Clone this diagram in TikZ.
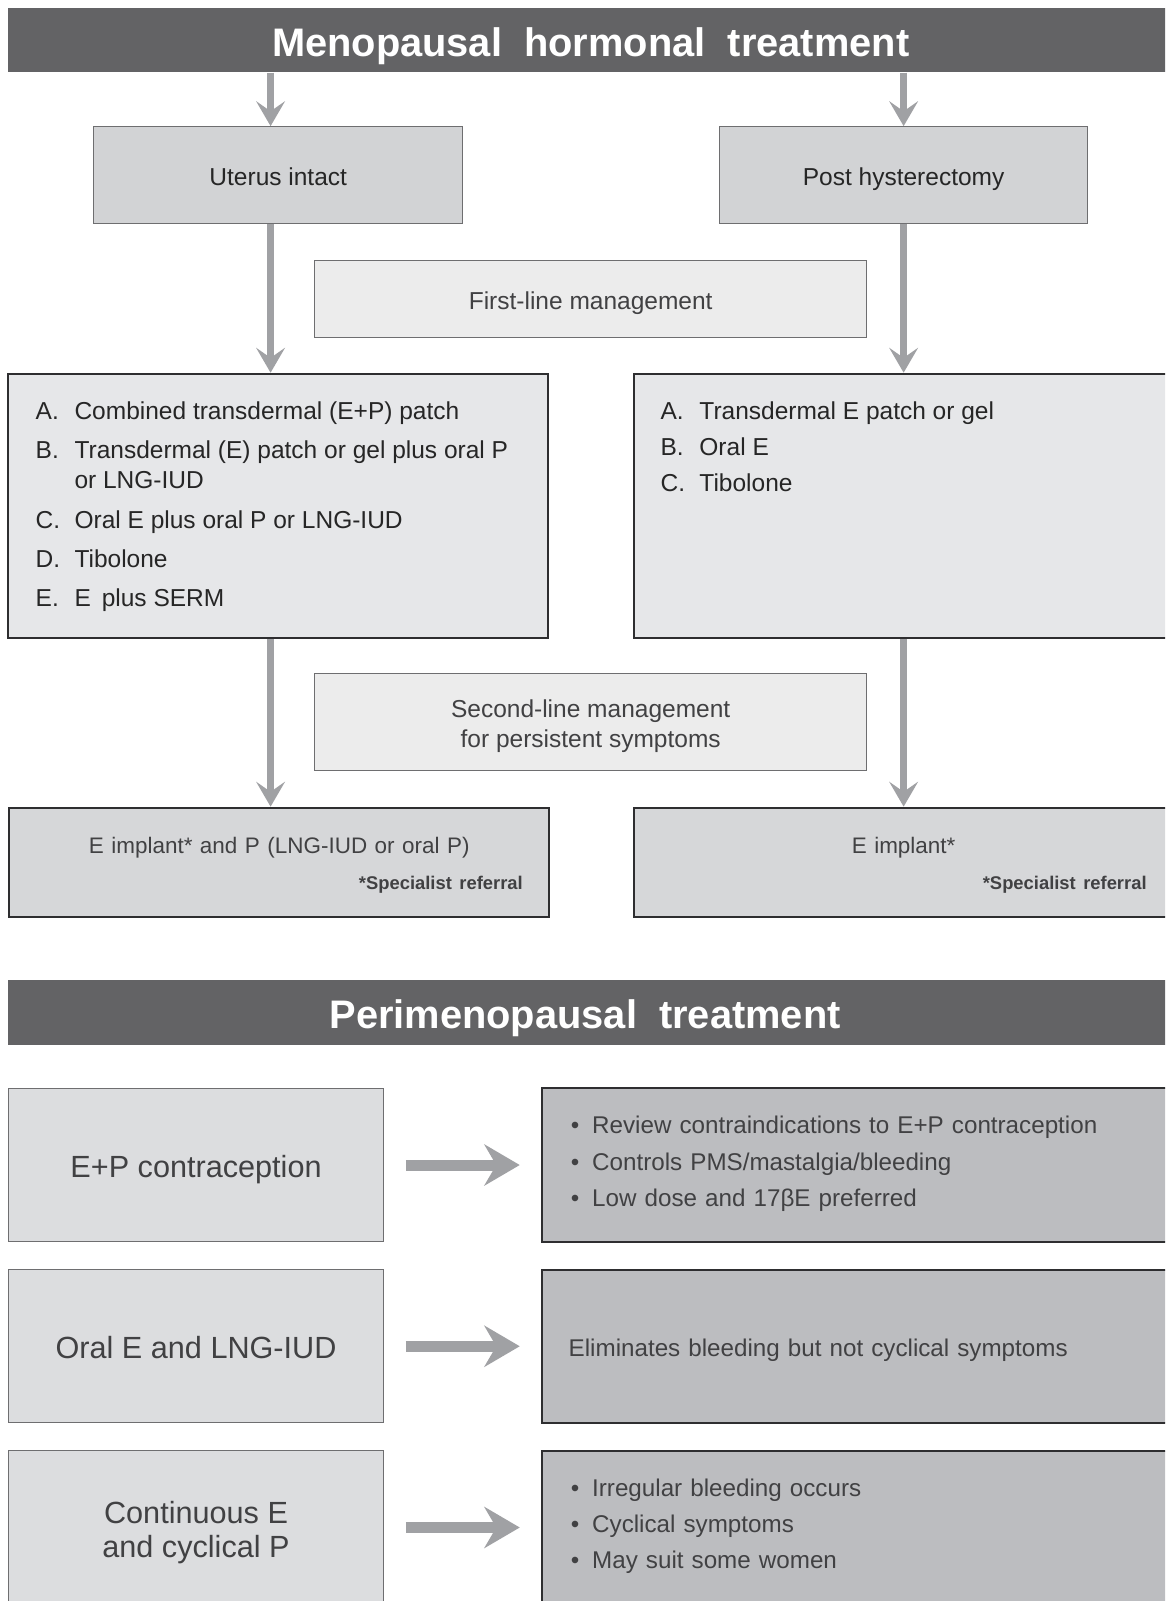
\documentclass[tikz,border=0pt]{standalone}
\usepackage{fontspec}
\setmainfont{Liberation Sans}
\newfontfamily\bannerfont{Liberation Sans}[WordSpace=2]
\usetikzlibrary{arrows.meta, positioning}

\definecolor{bannergray}{HTML}{636365}
\definecolor{arrowgray}{HTML}{A0A1A4}
\definecolor{boxgray}{HTML}{D2D3D5}
\definecolor{notegray}{HTML}{ECECEC}
\definecolor{listgray}{HTML}{E6E7E9}
\definecolor{implantgray}{HTML}{D6D7D9}
\definecolor{optgray}{HTML}{DCDDDF}
\definecolor{effectgray}{HTML}{BCBDC0}
\definecolor{edgegray}{HTML}{6E6E70}
\definecolor{edgedark}{HTML}{2E2E30}
\definecolor{inkgray}{HTML}{414143}

\newcommand\reffont{\bfseries\fontsize{18}{20}\selectfont}
\newcommand\pitem[1]{\hspace*{2pt}\makebox[21pt][l]{\textbullet}#1}
\newcommand\litem[2]{\makebox[38pt][l]{#1}#2\par}

\begin{document}
\begin{tikzpicture}[x=1pt, y=-1pt,
  banner/.style={fill=bannergray, text=white, inner sep=0pt,
    font=\bannerfont\bfseries\fontsize{39}{44}\selectfont,
    minimum width=1141pt, minimum height=63pt, text height=31pt, text depth=0pt},
  flow/.style={draw=arrowgray, line width=6.5pt,
    -{Stealth[length=24.5pt, width=28.5pt, inset=10pt, line width=0pt]}},
  sideflow/.style={draw=arrowgray, line width=10.8pt, shorten <=21pt, shorten >=21pt,
    -{Stealth[length=35pt, width=41pt, inset=12pt, line width=0pt]}},
  groupbox/.style={draw=edgegray, line width=1pt, fill=boxgray, minimum height=95pt,
    font=\fontsize{24}{30}\selectfont, text=black!85, text height=20pt, text depth=0pt},
  stagebox/.style={draw=edgegray, line width=1pt, fill=notegray, minimum width=541pt,
    align=center, font=\fontsize{24}{30}\selectfont, text=inkgray, text depth=0pt},
  listbox/.style={draw=edgedark, line width=2pt, fill=listgray, inner sep=0pt,
    minimum height=259pt, text=black!85},
  implantbox/.style={draw=edgedark, line width=2pt, fill=implantgray, minimum height=107pt,
    inner xsep=26pt, align=center, font=\fontsize{22}{30}\selectfont, text=inkgray,
    text height=20pt, text depth=37.2pt},
  optbox/.style={draw=edgegray, line width=1pt, fill=optgray, minimum width=368pt,
    minimum height=150pt, align=center, font=\fontsize{30}{34}\selectfont, text=inkgray,
    text depth=0pt},
  effectbox/.style={draw=edgedark, line width=2pt, fill=effectgray, minimum height=150pt,
    text width=582pt, inner xsep=26pt, align=left,
    font=\fontsize{23.7}{35.5}\selectfont, text=inkgray, text height=20pt}]

  % 畫布範圍
  \useasboundingbox (0,0) rectangle (1141,1568);
  \clip (0,0) rectangle (1141,1568);
  \fill[white] (0,0) rectangle (1141,1568);
  \coordinate (lcol) at (265,0);
  \coordinate (rcol) at (885,0);

  % 停經期荷爾蒙治療
  \node[banner] (meno) at (578.5,39.5) {Menopausal hormonal treatment};
  \node[groupbox, minimum width=361pt] (ut) at (272.5,171.5) {Uterus intact};
  \node[groupbox, minimum width=360pt] (ph) at (885,171.5) {Post hysterectomy};
  \node[stagebox, minimum height=76pt, text height=20pt] (first) at (578.5,293)
    {First-line management};

  \node[listbox, minimum width=529pt] (ul) at (272.5,495.5) {%
    \begin{minipage}[c][205pt][t]{475pt}\fontsize{24}{30}\selectfont
      \raggedright\parskip=8.5pt
      \litem{A.}{Combined transdermal (E+P) patch}
      \litem{B.}{Transdermal (E) patch or gel plus oral P\newline\hspace*{38pt}or LNG-IUD}
      \litem{C.}{Oral E plus oral P or LNG-IUD}
      \litem{D.}{Tibolone}
      \litem{E.}{E\, plus SERM}
    \end{minipage}};
  \node[listbox, minimum width=528pt] (pl) at (885,495.5) {%
    \begin{minipage}[c][205pt][t]{476pt}\fontsize{24}{30}\selectfont
      \raggedright\parskip=5.5pt
      \litem{A.}{Transdermal E patch or gel}
      \litem{B.}{Oral E}
      \litem{C.}{Tibolone}
    \end{minipage}};

  \node[stagebox, minimum height=95pt, text height=50pt] (second) at (578.5,707.5)
    {Second-line management\\for persistent symptoms};
  \node[implantbox, minimum width=529pt, text width=477pt] (ui) at (273.5,844.5)
    {E implant* and P (LNG-IUD or oral P)\\[5pt]\hskip 0pt plus 1filll{\reffont *Specialist referral}};
  \node[implantbox, minimum width=528pt, text width=476pt] (pi) at (885,844.5)
    {E implant*\\[5pt]\hskip 0pt plus 1filll{\reffont *Specialist referral}};

  % 箭頭
  \draw[flow] (meno.south -| lcol) -- (ut.north -| lcol);
  \draw[flow] (meno.south -| rcol) -- (ph.north -| rcol);
  \draw[flow] (ut.south -| lcol) -- (ul.north -| lcol);
  \draw[flow] (ph.south -| rcol) -- (pl.north -| rcol);
  \draw[flow] (ul.south -| lcol) -- (ui.north -| lcol);
  \draw[flow] (pl.south -| rcol) -- (pi.north -| rcol);

  % 圍停經期治療
  \node[banner] (peri) at (578.5,991.5) {Perimenopausal treatment\hspace*{11pt}};

  \node[optbox, text height=24.6pt] (ep) at (192,1141) {E+P contraception};
  \node[effectbox, text depth=81pt] (epx) at (848,1141)
    {\pitem{Review contraindications to E+P contraception}\\
     \pitem{Controls PMS/mastalgia/bleeding}\\
     \pitem{Low dose and 17βE preferred}};

  \node[optbox, text height=24.6pt] (oe) at (192,1318.5) {Oral E and LNG-IUD};
  \node[effectbox, text depth=0pt] (oex) at (848,1318.5)
    {Eliminates bleeding but not cyclical symptoms};

  \node[optbox, text height=59.6pt] (ce) at (192,1496) {Continuous E\\and cyclical P};
  \node[effectbox, text depth=81pt] (cex) at (848,1496)
    {\pitem{Irregular bleeding occurs}\\
     \pitem{Cyclical symptoms}\\
     \pitem{May suit some women}};

  \draw[sideflow] (ep) -- (epx);
  \draw[sideflow] (oe) -- (oex);
  \draw[sideflow] (ce) -- (cex);
\end{tikzpicture}
\end{document}
